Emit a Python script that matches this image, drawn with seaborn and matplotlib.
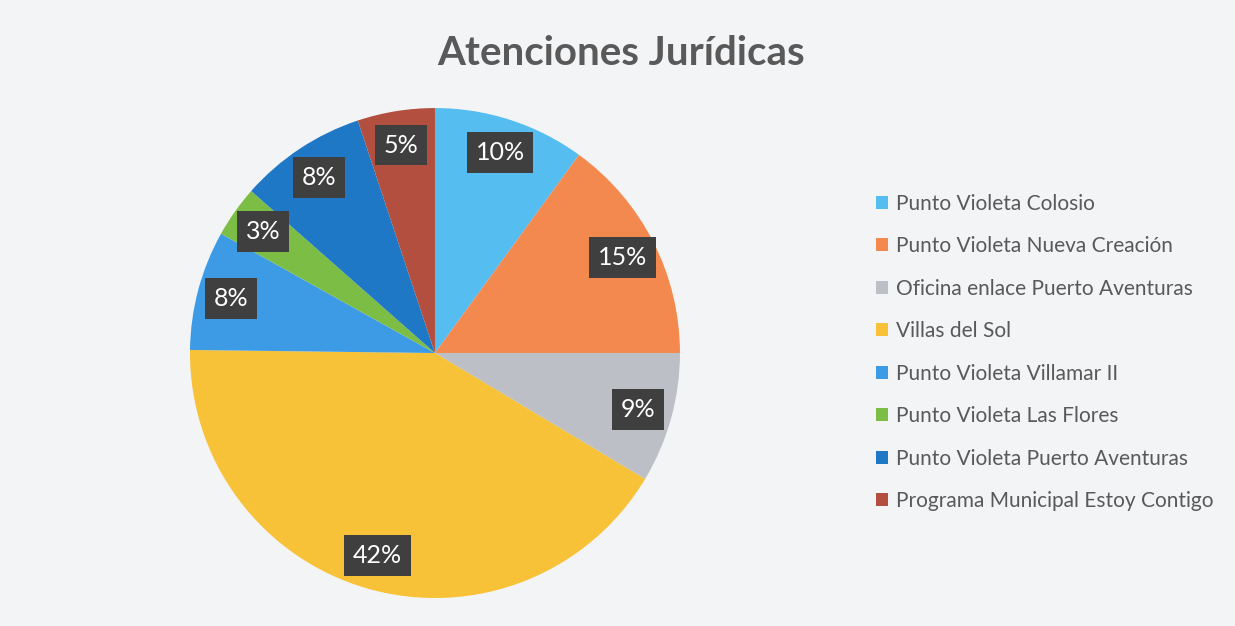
import matplotlib
matplotlib.use("Agg")
import matplotlib.pyplot as plt
import seaborn as sns

# Data (shares)
categories = ["Punto Violeta Colosio",
              "Punto Violeta Nueva Creación",
              "Oficina enlace Puerto Aventuras",
              "Villas del Sol",
              "Punto Violeta Villamar II",
              "Punto Violeta Las Flores",
              "Punto Violeta Puerto Aventuras",
              "Programa Municipal Estoy Contigo"]
shares = [10.0, 15.0, 8.6, 41.6, 7.9, 3.4, 8.4, 5.1]
slice_colors = ["#56bdf0", "#f4894f", "#bcbfc6", "#f8c238",
                "#3d9be6", "#7cbd45", "#1f78c6", "#b24f3f"]

sns.set_theme(style="white")
plt.rcParams["font.family"] = ["Lato", "DejaVu Sans"]

bg = "#f3f4f6"
text_col = "#595959"

fig = plt.figure(figsize=(12.35, 6.26), dpi=100, facecolor=bg)
ax = fig.add_axes([0.1538, 0.0447, 0.3968, 0.7827])
ax.set_facecolor(bg)

palette = sns.color_palette(slice_colors)
wedges, texts, autotexts = ax.pie(shares,
                                  colors=palette,
                                  startangle=90,
                                  counterclock=False,
                                  autopct=lambda p: f"{p:.0f}%",
                                  pctdistance=0.86,
                                  wedgeprops={"linewidth": 0})
for t in autotexts:
    t.set_color("white")
    t.set_fontsize(18)
    t.set_bbox(dict(boxstyle="square,pad=0.35", facecolor="#3f3f3f",
                    edgecolor="none"))
ax.set_xlim(-1, 1)
ax.set_ylim(-1, 1)
ax.set_aspect("equal")

# Title
fig.text(0.503, 0.915, "Atenciones Jurídicas", ha="center", va="center",
         fontsize=29, fontweight="bold", color=text_col)

# Legend
leg = fig.legend(wedges, categories, loc="center left",
                 bbox_to_anchor=(0.694, 0.437), frameon=False,
                 fontsize=15, labelcolor=text_col,
                 handlelength=0.6, handleheight=0.6, handletextpad=0.35,
                 labelspacing=1.08)

fig.savefig("out.png", dpi=100, facecolor=bg)
